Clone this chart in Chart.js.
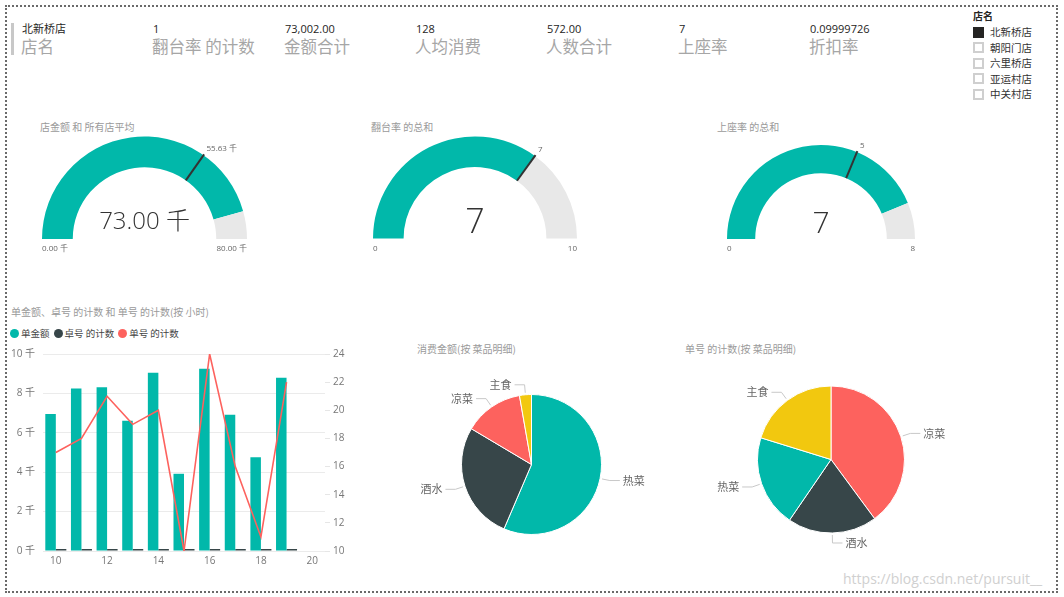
<!DOCTYPE html>
<html>
<head>
<meta charset="utf-8">
<script src="https://cdn.jsdelivr.net/npm/chart.js@4.4.1/dist/chart.umd.min.js"></script>
<style>
  html, body { margin:0; padding:0; background:#fff; }
  body { width:1064px; height:597px; position:relative; overflow:hidden;
         font-family:"Open Sans","Noto Sans CJK SC",sans-serif; }
  .abs { position:absolute; white-space:nowrap; }
  #frame { position:absolute; left:5px; top:5px; width:1049px; height:584px; border:2px dotted #6a6a6a; }
  .cval { font-size:11px; line-height:14px; color:#252423; }
  .clab { font-size:16.5px; line-height:20px; color:#a6a6a6; font-family:"Noto Sans CJK SC","Open Sans",sans-serif; }
  .title { font-size:10px; line-height:14px; color:#9a9a9a; font-family:"Noto Sans CJK SC","Open Sans",sans-serif; }
  .slh { font-size:10px; line-height:14px; color:#252423; font-weight:bold; font-family:"Noto Sans CJK SC",sans-serif; }
  .sli { font-size:10.5px; line-height:14px; color:#333; font-family:"Noto Sans CJK SC",sans-serif; }
  .box { position:absolute; width:7px; height:7px; border:2px solid #cfcfcf; background:#fff; }
  .box.on { background:#252423; border-color:#252423; }
  .leg { font-size:9.5px; line-height:12px; color:#444; font-family:"Noto Sans CJK SC",sans-serif; display:flex; align-items:center; }
  .dot { display:inline-block; width:9px; height:9px; border-radius:50%; margin-right:2px; }
  canvas { position:absolute; }
</style>
</head>
<body>
<div id="frame"></div>
<div class="abs" style="left:11px;top:23px;width:3px;height:32px;background:#c8c8c8;"></div>
<div id="cards"></div>
<div id="slicer"></div>
<div id="titles"></div>
<div id="legend" class="abs" style="left:10px;top:327px;display:flex;gap:4px;"></div>
<div class="abs" style="left:843px;top:570px;font-size:14px;line-height:18px;color:#d0d0d0;">https://blog.csdn.net/pursuit__</div>

<canvas id="g0" width="230" height="125" style="left:30px;top:130px;"></canvas>
<canvas id="g1" width="230" height="125" style="left:360px;top:130px;"></canvas>
<canvas id="g2" width="220" height="125" style="left:710px;top:130px;"></canvas>
<canvas id="bar" width="355" height="230" style="left:0px;top:340px;"></canvas>
<canvas id="pie1" width="250" height="190" style="left:410px;top:370px;"></canvas>
<canvas id="pie2" width="270" height="190" style="left:690px;top:370px;"></canvas>

<script>
// ---------------- DATA ----------------
const cardLabels = ['店名','翻台率 的计数','金额合计','人均消费','人数合计','上座率','折扣率'];
const cardValues = ['北新桥店','1','73,002.00','128','572.00','7','0.09999726'];

const slicerTitle = '店名';
const storeNames = ['北新桥店','朝阳门店','六里桥店','亚运村店','中关村店'];
const selectedStore = '北新桥店';

const gaugeTitles  = ['店金额 和 所有店平均','翻台率 的总和','上座率 的总和'];
const gaugeValues  = [73002, 7, 7];
const gaugeMins    = [0, 0, 0];
const gaugeMaxes   = [80000, 10, 8];
const gaugeTargets = [55630, 7, 5];

const comboTitle = '单金额、卓号 的计数 和 单号 的计数(按 小时)';
const seriesNames = ['单金额','卓号 的计数','单号 的计数'];
const hourLabels = ['10','11','12','13','14','15','16','17','18','19','20'];
const orderAmount = [6960, 8250, 8310, 6610, 9050, 3920, 9250, 6910, 4760, 8800];
const tableCount  = [17, 18, 21, 19, 20, 10, 24, 16, 11, 22];
const orderCount  = [17, 18, 21, 19, 20, 10, 24, 16, 11, 22];

const pie1Title = '消费金额(按 菜品明细)';
const pie1Labels = ['热菜','酒水','凉菜','主食'];
const pie1Values = [41170, 19780, 10000, 2010];

const pie2Title = '单号 的计数(按 菜品明细)';
const pie2Labels = ['凉菜','酒水','热菜','主食'];
const pie2Values = [71, 35, 36, 36];

// ---------------- STYLE ----------------
const TEAL = '#01B8AA', DARK = '#374649', RED = '#FD625E', YELLOW = '#F2C80F', TRACK = '#E8E8E8';
const dishColor = {'热菜':TEAL,'酒水':DARK,'凉菜':RED,'主食':YELLOW};
const CJK = "'Open Sans','Noto Sans CJK SC',sans-serif";

// ---------------- HTML TEXT ----------------
const cardX = [22,153,285,416,547,679,810];
const cards = document.getElementById('cards');
cardLabels.forEach((lab,i)=>{
  cards.insertAdjacentHTML('beforeend',
    `<div class="abs cval" style="left:${cardX[i]}px;top:22px;">${cardValues[i]}</div>` +
    `<div class="abs clab" style="left:${cardX[i]-1}px;top:36px;">${lab}</div>`);
});
const slicer = document.getElementById('slicer');
slicer.insertAdjacentHTML('beforeend', `<div class="abs slh" style="left:973px;top:9px;">${slicerTitle}</div>`);
storeNames.forEach((s,i)=>{
  const cy = 32 + i*15.5;
  slicer.insertAdjacentHTML('beforeend',
    `<div class="box ${s===selectedStore?'on':''}" style="left:973px;top:${cy-5.5}px;"></div>` +
    `<div class="abs sli" style="left:990px;top:${cy-7}px;">${s}</div>`);
});
const titles = document.getElementById('titles');
[[40,gaugeTitles[0]],[371,gaugeTitles[1]],[717,gaugeTitles[2]]].forEach(([x,t])=>{
  titles.insertAdjacentHTML('beforeend', `<div class="abs title" style="left:${x}px;top:120px;">${t}</div>`);
});
titles.insertAdjacentHTML('beforeend', `<div class="abs title" style="left:11px;top:305px;">${comboTitle}</div>`);
titles.insertAdjacentHTML('beforeend', `<div class="abs title" style="left:417px;top:342px;">${pie1Title}</div>`);
titles.insertAdjacentHTML('beforeend', `<div class="abs title" style="left:685px;top:342px;">${pie2Title}</div>`);
const legend = document.getElementById('legend');
[TEAL,DARK,RED].forEach((c,i)=>{
  legend.insertAdjacentHTML('beforeend', `<div class="leg"><span class="dot" style="background:${c}"></span>${seriesNames[i]}</div>`);
});

// ---------------- GAUGES ----------------
const gaugePlugin = {
  id:'gaugeDeco',
  afterDatasetsDraw(chart, args, o) {
    const arc = chart.getDatasetMeta(0).data[0];
    const p = arc.getProps(['x','y','innerRadius','outerRadius'], true);
    const ctx = chart.ctx;
    const frac = (o.target - o.min) / (o.max - o.min);
    const a = Math.PI + frac * Math.PI;
    const c = Math.cos(a), s = Math.sin(a);
    ctx.save();
    ctx.strokeStyle = '#333'; ctx.lineWidth = 2;
    ctx.beginPath();
    ctx.moveTo(p.x + c*p.innerRadius, p.y + s*p.innerRadius);
    ctx.lineTo(p.x + c*(p.outerRadius+1), p.y + s*(p.outerRadius+1));
    ctx.stroke();
    ctx.font = "8px " + CJK; ctx.fillStyle = '#666'; ctx.textBaseline = 'middle';
    ctx.textAlign = 'left';
    ctx.fillText(o.fmt(o.target), p.x + c*p.outerRadius + 3, p.y + s*p.outerRadius - 6);
    ctx.fillText(o.fmt(o.min), p.x - p.outerRadius, p.y + 10);
    ctx.textAlign = 'right';
    ctx.fillText(o.fmt(o.max), p.x + p.outerRadius, p.y + 10);
    ctx.textAlign = 'center'; ctx.textBaseline = 'alphabetic';
    ctx.fillStyle = '#333';
    ctx.font = "300 " + o.valueSize + "px " + CJK;
    ctx.fillText(o.fmt(o.value), p.x, p.y - o.valueLift);
    ctx.restore();
  }
};
const fmtK = v => (v/1000).toFixed(2) + ' 千';
const fmtN = v => String(v);
const gaugeCfg = [
  {pad:{left:12,right:13,top:6.5,bottom:16}, fmt:fmtK, valueSize:24, valueLift:10.5},
  {pad:{left:13,right:13,top:6.5,bottom:16.5}, fmt:fmtN, valueSize:34, valueLift:5.5},
  {pad:{left:17,right:15,top:15,bottom:16}, fmt:fmtN, valueSize:30, valueLift:6}
];
gaugeValues.forEach((v,i)=>{
  const cfg = gaugeCfg[i];
  new Chart(document.getElementById('g'+i), {
    type:'doughnut',
    data:{ datasets:[{ data:[v - gaugeMins[i], gaugeMaxes[i] - v], backgroundColor:[TEAL, TRACK], borderWidth:0 }] },
    options:{
      responsive:false, animation:false, rotation:-90, circumference:180, cutout:'70%',
      layout:{ padding:cfg.pad },
      plugins:{ legend:{display:false}, tooltip:{enabled:false},
        gaugeDeco:{ min:gaugeMins[i], max:gaugeMaxes[i], target:gaugeTargets[i], value:v, fmt:cfg.fmt,
                    valueSize:cfg.valueSize, valueLift:cfg.valueLift } }
    },
    plugins:[gaugePlugin]
  });
});

// ---------------- COMBO CHART ----------------
const tickFont = { size:10, family:CJK };
new Chart(document.getElementById('bar'), {
  type:'bar',
  data:{
    labels: hourLabels,
    datasets:[
      { type:'line', label:seriesNames[2], data:orderCount, yAxisID:'y1', borderColor:RED, borderWidth:1.6,
        pointRadius:0, tension:0, fill:false, order:0 },
      { type:'bar', label:seriesNames[0], data:orderAmount, yAxisID:'y', backgroundColor:TEAL,
        categoryPercentage:0.82, barPercentage:1.0, order:1 },
      { type:'bar', label:seriesNames[1], data:tableCount, yAxisID:'y', backgroundColor:DARK,
        categoryPercentage:0.82, barPercentage:1.0, minBarLength:2, order:1 }
    ]
  },
  options:{
    responsive:false, animation:false,
    layout:{ padding:{ left:5, right:5, top:11, bottom:0 } },
    plugins:{ legend:{display:false}, tooltip:{enabled:false} },
    scales:{
      x:{ offset:true, grid:{display:false, drawTicks:false}, border:{display:false},
          ticks:{ autoSkip:false, maxRotation:0, padding:4, color:'#777', font:tickFont,
                  callback:(v,i)=> (Number(hourLabels[i]) % 2 === 0 ? hourLabels[i] : '') },
          afterFit:a=>{ a.height = 19; } },
      y:{ position:'left', min:0, max:10000,
          ticks:{ stepSize:2000, padding:8, color:'#777', font:tickFont, callback:v=> (v/1000) + ' 千' },
          grid:{ color:'#ebebeb', drawTicks:false }, border:{display:false},
          afterFit:a=>{ a.width = 38; } },
      y1:{ position:'right', min:10, max:24,
          ticks:{ stepSize:2, padding:3, color:'#777', font:tickFont },
          grid:{ drawOnChartArea:false, color:'#e6e6e6', tickLength:5 }, border:{display:false},
          afterFit:a=>{ a.width = 25; } }
    }
  }
});

// ---------------- PIES ----------------
const pieLabelPlugin = {
  id:'pieLabels',
  afterDatasetsDraw(chart) {
    const ctx = chart.ctx;
    const meta = chart.getDatasetMeta(0);
    const labels = chart.data.labels;
    ctx.save();
    ctx.font = "11px 'Noto Sans CJK SC',sans-serif";
    ctx.textBaseline = 'middle';
    meta.data.forEach((arc,i)=>{
      const p = arc.getProps(['x','y','startAngle','endAngle','outerRadius'], true);
      const a = (p.startAngle + p.endAngle) / 2;
      const c = Math.cos(a), s = Math.sin(a);
      const r0 = p.outerRadius + 2, r1 = p.outerRadius + 10;
      const x0 = p.x + c*r0, y0 = p.y + s*r0;
      const x1 = p.x + c*r1, y1 = p.y + s*r1;
      const right = c >= 0;
      const x2 = x1 + (right ? 10 : -10);
      ctx.strokeStyle = '#c8c8c8'; ctx.lineWidth = 1;
      ctx.beginPath(); ctx.moveTo(x0,y0); ctx.lineTo(x1,y1); ctx.lineTo(x2,y1); ctx.stroke();
      ctx.fillStyle = '#666';
      ctx.textAlign = right ? 'left' : 'right';
      ctx.fillText(labels[i], x2 + (right ? 3 : -3), y1);
    });
    ctx.restore();
  }
};
function makePie(id, labels, values, pad) {
  new Chart(document.getElementById(id), {
    type:'pie',
    data:{ labels, datasets:[{ data:values, backgroundColor:labels.map(l=>dishColor[l]), borderColor:'#fff', borderWidth:1 }] },
    options:{ responsive:false, animation:false, layout:{ padding:pad },
      plugins:{ legend:{display:false}, tooltip:{enabled:false} } },
    plugins:[pieLabelPlugin]
  });
}
makePie('pie1', pie1Labels, pie1Values, {left:51,right:58,top:24,bottom:25});
makePie('pie2', pie2Labels, pie2Values, {left:67,right:55,top:15.5,bottom:26.5});
</script>
</body>
</html>
